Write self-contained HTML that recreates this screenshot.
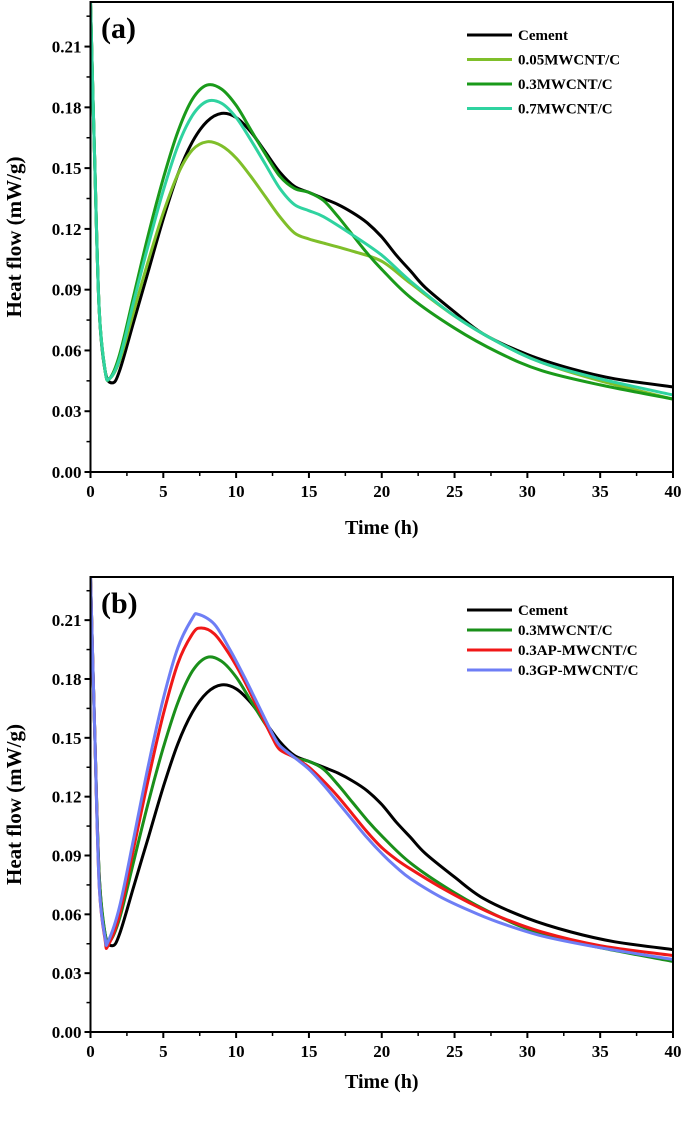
<!DOCTYPE html>
<html><head><meta charset="utf-8"><style>
body{margin:0;background:#fff;}
svg text{font-family:"Liberation Serif",serif;font-weight:bold;fill:#000;}
</style></head><body>
<svg id="chart" width="685" height="1123" xmlns="http://www.w3.org/2000/svg"></svg>
<script>
const xTicks=[0,5,10,15,20,25,30,35,40];
const yTicks=[0.00,0.03,0.06,0.09,0.12,0.15,0.18,0.21];
const cementT=[0,0.3,0.6,1,1.5,2,3,4,5,6,7,8,9,10,11,12,13,14,15,16,17,18,19,20,21,22,23,25,27,30,33,36,40];
const cementV=[0.232,0.15,0.08,0.05,0.044,0.05,0.075,0.10,0.125,0.147,0.163,0.173,0.177,0.175,0.168,0.158,0.148,0.141,0.138,0.135,0.132,0.128,0.123,0.116,0.107,0.099,0.091,0.079,0.068,0.058,0.051,0.046,0.042];
const mw005T=[0,0.3,0.6,1,1.3,2,3,4,5,6,7,8,9,10,11,12,13,14,15,16,18,20,22,25,28,31,35,40];
const mw005V=[0.232,0.15,0.08,0.05,0.046,0.055,0.08,0.105,0.128,0.147,0.159,0.163,0.161,0.155,0.146,0.136,0.126,0.118,0.115,0.113,0.109,0.104,0.093,0.077,0.064,0.054,0.045,0.036];
const mw03T=[0,0.3,0.6,1,1.3,2,3,4,5,6,7,8,9,10,11,12,13,14,15,16,17,18,19,20,22,25,28,31,35,40];
const mw03V=[0.232,0.15,0.08,0.05,0.046,0.058,0.088,0.118,0.145,0.168,0.184,0.191,0.189,0.181,0.169,0.157,0.146,0.140,0.138,0.134,0.126,0.117,0.108,0.100,0.086,0.071,0.059,0.050,0.043,0.036];
const mw07T=[0,0.3,0.6,1,1.3,2,3,4,5,6,7,8,9,10,11,12,13,14,15,16,18,20,22,25,28,31,35,40];
const mw07V=[0.232,0.15,0.08,0.05,0.046,0.056,0.085,0.113,0.139,0.161,0.176,0.183,0.182,0.175,0.164,0.152,0.140,0.132,0.129,0.126,0.117,0.107,0.094,0.077,0.064,0.054,0.046,0.038];
const apT=[0,0.3,0.6,1,1.2,2,3,4,5,6,7,7.6,8.5,9.5,10.5,11.5,12.5,13,14,15,16,17,18,19,20,21,22,24,26,28,31,35,40];
const apV=[0.232,0.15,0.075,0.047,0.044,0.06,0.095,0.13,0.162,0.188,0.203,0.206,0.203,0.193,0.180,0.165,0.150,0.144,0.140,0.135,0.128,0.120,0.111,0.102,0.094,0.088,0.083,0.074,0.066,0.059,0.051,0.044,0.039];
const gpT=[0,0.3,0.6,1,1.2,2,3,4,5,6,7,7.4,8.5,9.5,10.5,11.5,12.5,13,14,15,16,17,18,19,20,21,22,24,26,28,31,35,40];
const gpV=[0.232,0.15,0.075,0.048,0.046,0.064,0.10,0.137,0.170,0.196,0.211,0.213,0.208,0.196,0.182,0.167,0.152,0.146,0.140,0.134,0.126,0.117,0.108,0.099,0.091,0.084,0.078,0.069,0.062,0.056,0.049,0.043,0.037];
const NS="http://www.w3.org/2000/svg";
const svg=document.getElementById('chart');
function mk(tag,attrs,parent,txt){const e=document.createElementNS(NS,tag);for(const k in attrs)e.setAttribute(k,attrs[k]);if(txt!==undefined)e.textContent=txt;(parent||svg).appendChild(e);return e;}
function smooth(pts){let d=`M${pts[0][0]},${pts[0][1]}`;for(let i=0;i<pts.length-1;i++){const p0=pts[Math.max(0,i-1)],p1=pts[i],p2=pts[i+1],p3=pts[Math.min(pts.length-1,i+2)];const c1x=p1[0]+(p2[0]-p0[0])/6,c1y=p1[1]+(p2[1]-p0[1])/6,c2x=p2[0]-(p3[0]-p1[0])/6,c2y=p2[1]-(p3[1]-p1[1])/6;d+=`C${c1x.toFixed(1)},${c1y.toFixed(1)} ${c2x.toFixed(1)},${c2y.toFixed(1)} ${p2[0].toFixed(1)},${p2[1].toFixed(1)}`;}return d;}
function panel(cfg){
  const g=mk('g',{});
  
  
  const L=90.5,R=673,top=cfg.top,bot=cfg.bot,ymax=0.232;
  const X=t=>L+(R-L)*t/40, Y=v=>bot-(bot-top)*v/ymax;
  const cp=mk('clipPath',{id:'c'+cfg.id},g);mk('rect',{x:L,y:top,width:R-L,height:bot-top},cp);
  cfg.series.forEach(s=>{const p=mk('path',{d:smooth(s.t.map((t,i)=>[X(t),Y(s.v[i])])),fill:'none',stroke:s.c,'stroke-width':3,'clip-path':`url(#c${cfg.id})`},g);
    
    });
  const f=mk('rect',{x:L,y:top,width:R-L,height:bot-top,fill:'none',stroke:'#000','stroke-width':2},g);
  
  
  xTicks.forEach((t,i)=>{mk('line',{x1:X(t),x2:X(t),y1:bot,y2:bot+6,stroke:'#000','stroke-width':2},g);
    if(i<xTicks.length-1)mk('line',{x1:X(t+2.5),x2:X(t+2.5),y1:bot,y2:bot+4,stroke:'#000','stroke-width':1.5},g);
    const tx=mk('text',{x:X(t),y:bot+25,'text-anchor':'middle','font-size':17},g,String(t));
    
    });
  yTicks.forEach((v,i)=>{mk('line',{x1:L-6,x2:L,y1:Y(v),y2:Y(v),stroke:'#000','stroke-width':2},g);
    mk('line',{x1:L-4,x2:L,y1:Y(v+0.015),y2:Y(v+0.015),stroke:'#000','stroke-width':1.5},g);
    const tx=mk('text',{x:L-9,y:Y(v)+6,'text-anchor':'end','font-size':17},g,v.toFixed(2));
    
    });
  const xt=mk('text',{x:(L+R)/2,y:bot+cfg.xtOff,'text-anchor':'middle','font-size':20},g,'Time (h)');
  
  
  const cy=(top+bot)/2;
  const yt=mk('text',{x:21,y:cy,'text-anchor':'middle','font-size':21,transform:`rotate(-90 21 ${cy})`},g,'Heat flow (mW/g)');
  
  
  const pl=mk('text',{x:101,y:top+36,'font-size':30},g,cfg.label);
  
  
  cfg.series.forEach((s,i)=>{const ly=cfg.legY+i*cfg.legDy;
    const le=mk('g',{},g);
    
    
    mk('line',{x1:467,x2:512,y1:ly,y2:ly,stroke:s.c,'stroke-width':3},le);
    mk('text',{x:518,y:ly+5,'font-size':15},le,s.n);});
}
panel({id:'a',name:'panel-a',label:'(a)',top:2,bot:472,xtOff:62,legY:35,legDy:24.5,series:[
 {key:'cement',n:'Cement',c:'#000',t:cementT,v:cementV},
 {key:'0.05mwcnt',n:'0.05MWCNT/C',c:'#7fbf2a',t:mw005T,v:mw005V},
 {key:'0.3mwcnt',n:'0.3MWCNT/C',c:'#1a9a1a',t:mw03T,v:mw03V},
 {key:'0.7mwcnt',n:'0.7MWCNT/C',c:'#2fd3a0',t:mw07T,v:mw07V}]});
panel({id:'b',name:'panel-b',label:'(b)',top:577,bot:1032,xtOff:56,legY:610,legDy:20,series:[
 {key:'cement',n:'Cement',c:'#000',t:cementT,v:cementV},
 {key:'0.3mwcnt',n:'0.3MWCNT/C',c:'#1a8f1a',t:mw03T,v:mw03V},
 {key:'0.3ap',n:'0.3AP-MWCNT/C',c:'#f01818',t:apT,v:apV},
 {key:'0.3gp',n:'0.3GP-MWCNT/C',c:'#6e7ef5',t:gpT,v:gpV}]});
</script>
</body></html>
